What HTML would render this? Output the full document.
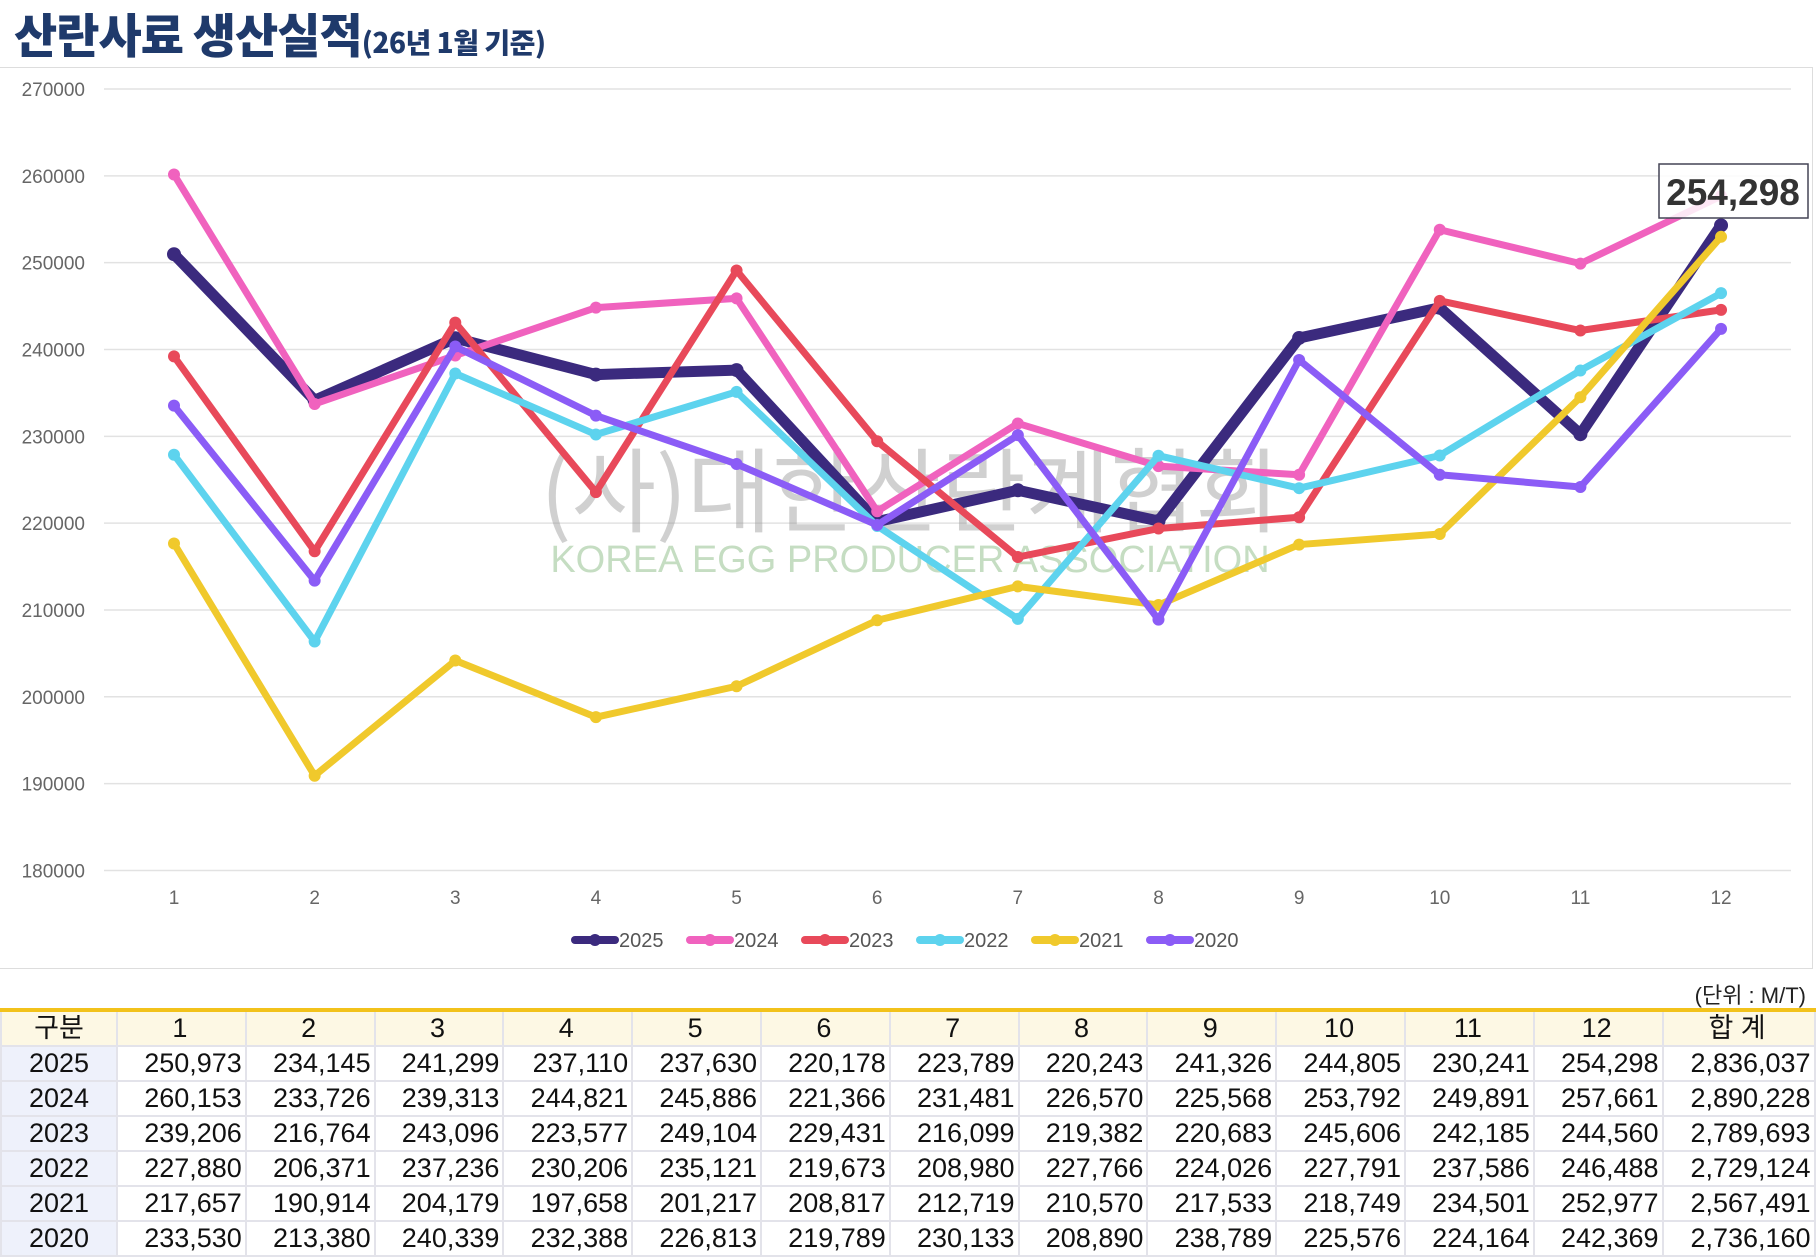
<!DOCTYPE html>
<html><head><meta charset="utf-8">
<style>
body{margin:0;width:1820px;height:1260px;background:#fff;font-family:"Liberation Sans","Noto Sans CJK KR",sans-serif;overflow:hidden;position:relative}
#title{position:absolute;left:14px;top:6px;font-family:"Noto Sans CJK KR",sans-serif;font-weight:900;color:#1f3a6b;font-size:47px;line-height:54px;letter-spacing:-1px}
#title span{font-size:28px;letter-spacing:-0.5px}
#panel{position:absolute;left:0;top:67px;width:1813px;height:902px;border:1px solid #ddd;border-left:none;box-sizing:border-box}
svg{position:absolute;left:0;top:0}
table{position:absolute;left:0;top:1008px;width:1814px;table-layout:fixed;border-collapse:collapse;border-top:4px solid #f2c21b;font-family:"Liberation Sans","Noto Sans CJK KR",sans-serif;font-size:27px;color:#111}
td{border:2px solid #e3e3ea;height:33px;padding:0 3px 0 0;text-align:right;line-height:33px;overflow:hidden;white-space:nowrap}
td:first-child{text-align:center;background:#eef1fb;padding:0}
tr:first-child td{background:#fdf8e4;text-align:center}
#unit{position:absolute;right:14px;top:978px;font-size:22px;color:#222;font-family:"Liberation Sans","Noto Sans CJK KR",sans-serif}
</style></head><body>
<div id="title">산란사료 생산실적<span>(26년 1월 기준)</span></div>
<div id="panel"></div>
<svg id="s" width="1820" height="1000" xmlns="http://www.w3.org/2000/svg"></svg>
<div id="unit">(단위 : M/T)</div>
<table id="t"><colgroup><col style="width:116px"><col span="12" style="width:128.8px"><col style="width:152px"></colgroup><tbody id="tb"></tbody></table>
<script>
const data={
2025:[250973,234145,241299,237110,237630,220178,223789,220243,241326,244805,230241,254298,"2,836,037"],
2024:[260153,233726,239313,244821,245886,221366,231481,226570,225568,253792,249891,257661,"2,890,228"],
2023:[239206,216764,243096,223577,249104,229431,216099,219382,220683,245606,242185,244560,"2,789,693"],
2022:[227880,206371,237236,230206,235121,219673,208980,227766,224026,227791,237586,246488,"2,729,124"],
2021:[217657,190914,204179,197658,201217,208817,212719,210570,217533,218749,234501,252977,"2,567,491"],
2020:[233530,213380,240339,232388,226813,219789,230133,208890,238789,225576,224164,242369,"2,736,160"]};
const col={2025:"#3b2a7e",2024:"#f062be",2023:"#e8495a",2022:"#5dd3ee",2021:"#f0c92c",2020:"#8b5cf6"};
const Y=v=>89+(270000-v)/10000*86.83, X=i=>174+i*140.64;
let s='';
for(let k=0;k<=9;k++){const v=270000-k*10000,y=Y(v);
s+=`<line x1="104" x2="1791" y1="${y}" y2="${y}" stroke="#e2e2e2" stroke-width="1.5"/><text x="85" y="${y+7}" text-anchor="end" font-size="19" fill="#666">${v}</text>`;}
for(let i=0;i<12;i++)s+=`<text x="${X(i)}" y="904" text-anchor="middle" font-size="19" fill="#666">${i+1}</text>`;
s+=`<text x="910" y="525" text-anchor="middle" font-size="92" fill="#999" opacity="0.45" font-family="Noto Sans CJK KR,sans-serif">(사)대한산란계협회</text>`;
s+=`<text x="910" y="572" text-anchor="middle" font-size="38" fill="#9fc79a" opacity="0.6">KOREA EGG PRODUCER ASSOCIATION</text>`;
["2025","2024","2023","2022","2021","2020"].forEach(y=>{
 const d=data[y],w=y=="2025"?11:7;
 s+=`<polyline fill="none" stroke="${col[y]}" stroke-width="${w}" stroke-linejoin="round" points="${d.slice(0,12).map((v,i)=>X(i)+','+Y(v)).join(' ')}"/>`;
 d.slice(0,12).forEach((v,i)=>s+=`<circle cx="${X(i)}" cy="${Y(v)}" r="${y=="2025"?7:6}" fill="${col[y]}"/>`);
});
["2025","2024","2023","2022","2021","2020"].forEach((y,k)=>{const x=575+k*115;
 s+=`<line x1="${x}" x2="${x+40}" y1="940" y2="940" stroke="${col[y]}" stroke-width="8" stroke-linecap="round"/><circle cx="${x+20}" cy="940" r="6" fill="${col[y]}"/><text x="${x+44}" y="947" font-size="20" fill="#555">${y}</text>`;});
s+=`<rect x="1659" y="164" width="149" height="54" fill="#fff" fill-opacity="0.85" stroke="#445" stroke-width="1.5"/><text x="1733" y="205" text-anchor="middle" font-size="37" font-weight="bold" fill="#333">254,298</text>`;
document.getElementById('s').innerHTML=s;
let h='<tr><td>구분</td>'+[...Array(12)].map((_,i)=>`<td>${i+1}</td>`).join('')+'<td>합 계</td></tr>';
Object.keys(data).sort().reverse().forEach(y=>{h+=`<tr><td>${y}</td>`+data[y].map(v=>`<td>${typeof v=="number"?v.toLocaleString("en-US"):v}</td>`).join('')+'</tr>';});
document.getElementById('tb').innerHTML=h;
</script>
</body></html>
